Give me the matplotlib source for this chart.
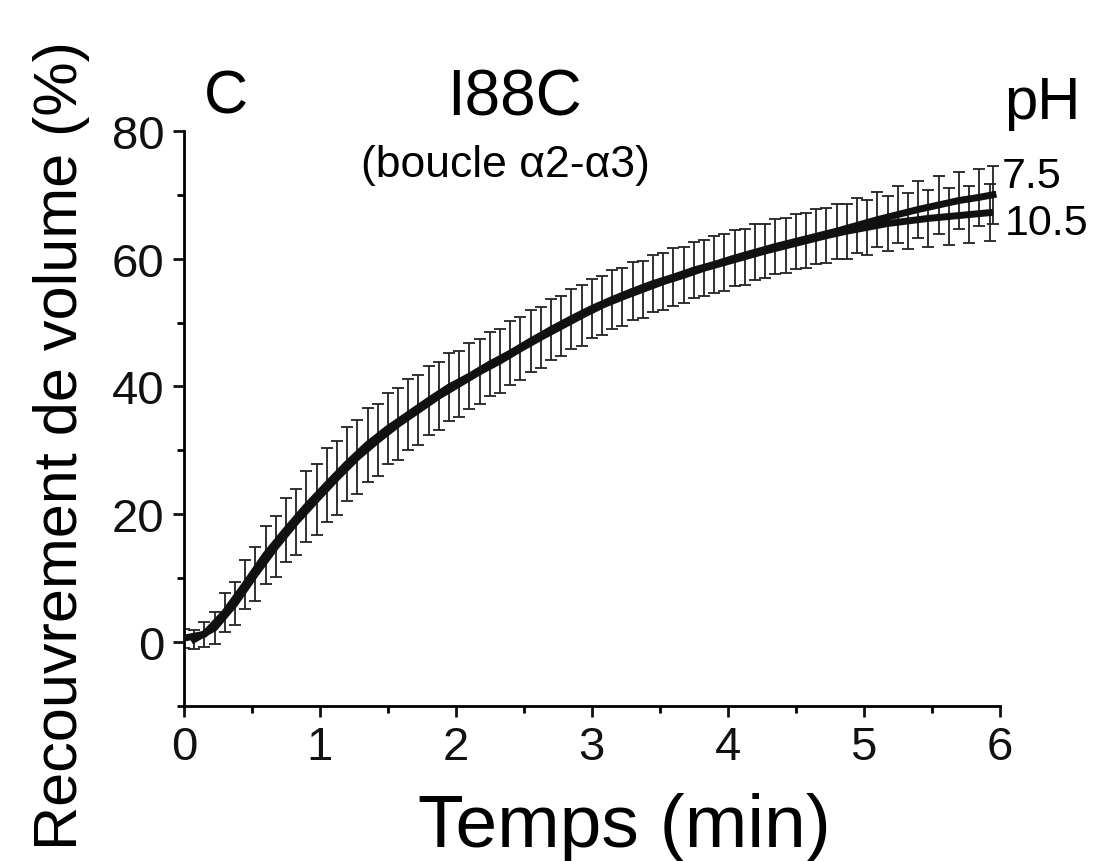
import matplotlib
matplotlib.use("Agg")
import matplotlib.pyplot as plt
from matplotlib.ticker import MultipleLocator

plt.rcParams['font.family'] = ['Liberation Sans', 'DejaVu Sans']

# ---------- Données ----------
temps_75 = [0.00, 0.15, 0.30, 0.45, 0.60, 0.75, 0.90, 1.05, 1.20, 1.35,
            1.50, 1.65, 1.80, 1.95, 2.10, 2.25, 2.40, 2.55, 2.70, 2.85,
            3.00, 3.15, 3.30, 3.45, 3.60, 3.75, 3.90, 4.05, 4.20, 4.35,
            4.50, 4.65, 4.80, 4.95, 5.10, 5.25, 5.40, 5.55, 5.70, 5.85, 5.95]
rec_75 = [0.6, 1.2, 4.6, 9.0, 13.6, 17.5, 21.2, 24.6, 27.9, 30.9,
          33.4, 35.6, 37.8, 39.9, 41.6, 43.5, 45.2, 47.1, 48.9, 50.6,
          52.2, 53.6, 54.9, 56.1, 57.1, 58.2, 59.1, 60.1, 61.0, 61.9,
          62.7, 63.5, 64.3, 65.2, 66.1, 66.9, 67.7, 68.4, 69.1, 69.6, 70.0]
err_75 = [1.5, 2.0, 3.0, 3.8, 4.5, 5.0, 5.5, 5.8, 5.8, 5.8,
          5.6, 5.5, 5.4, 5.3, 5.2, 5.0, 5.0, 4.8, 4.8, 4.7,
          4.6, 4.6, 4.5, 4.5, 4.5, 4.4, 4.4, 4.4, 4.4, 4.3,
          4.3, 4.3, 4.3, 4.3, 4.3, 4.4, 4.4, 4.5, 4.5, 4.5, 4.5]

temps_105 = [0.075, 0.225, 0.375, 0.525, 0.675, 0.825, 0.975, 1.125, 1.275, 1.425,
             1.575, 1.725, 1.875, 2.025, 2.175, 2.325, 2.475, 2.625, 2.775, 2.925,
             3.075, 3.225, 3.375, 3.525, 3.675, 3.825, 3.975, 4.125, 4.275, 4.425,
             4.575, 4.725, 4.875, 5.025, 5.175, 5.325, 5.475, 5.625, 5.775, 5.925]
rec_105 = [0.4, 2.2, 6.0, 10.6, 14.9, 18.8, 22.3, 25.7, 28.9, 31.6,
           34.1, 36.3, 38.5, 40.4, 42.3, 44.0, 45.9, 47.7, 49.4, 51.1,
           52.7, 54.0, 55.2, 56.4, 57.4, 58.5, 59.4, 60.3, 61.2, 62.0,
           62.8, 63.6, 64.3, 64.9, 65.5, 65.9, 66.3, 66.6, 66.9, 67.2]
err_105 = [1.5, 2.5, 3.4, 4.2, 4.8, 5.2, 5.6, 5.8, 5.8, 5.7,
           5.6, 5.5, 5.3, 5.2, 5.1, 5.0, 4.9, 4.8, 4.7, 4.7,
           4.6, 4.5, 4.5, 4.5, 4.4, 4.4, 4.4, 4.4, 4.3, 4.3,
           4.3, 4.3, 4.3, 4.3, 4.3, 4.4, 4.4, 4.5, 4.5, 4.5]

# ---------- Graphique ----------
fig = plt.figure(figsize=(10.95, 8.62), dpi=100)
ax = fig.add_axes([0.168, 0.180, 0.745, 0.667])

for t, r, e in [(temps_75, rec_75, err_75), (temps_105, rec_105, err_105)]:
    ax.errorbar(t, r, yerr=e, fmt="none", ecolor="#222222",
                elinewidth=1.3, capsize=4, capthick=1.3, zorder=2)
    ax.plot(t, r, color="#111111", linewidth=5, zorder=3)

ax.set_xlim(0, 6)
ax.set_ylim(-10, 80)
ax.spines["top"].set_visible(False)
ax.spines["right"].set_visible(False)
ax.spines["left"].set_linewidth(2)
ax.spines["bottom"].set_linewidth(2)

ax.xaxis.set_major_locator(MultipleLocator(1))
ax.xaxis.set_minor_locator(MultipleLocator(0.5))
ax.yaxis.set_minor_locator(MultipleLocator(10))
ax.set_yticks([0, 20, 40, 60, 80])
ax.tick_params(which="major", direction="out", length=8, width=2,
               labelsize=34, colors="#111111", pad=6)
ax.tick_params(which="minor", direction="out", length=5, width=2)

ax.set_xlabel("Temps (min)", fontsize=54)
ax.xaxis.set_label_coords(0.54, -0.15)
ax.set_ylabel("Recouvrement de volume (%)", fontsize=44)
ax.yaxis.set_label_coords(-0.115, 0.455)

fig.text(0.206, 0.886, "C", fontsize=44, ha="center", va="center")
fig.text(0.470, 0.886, "I88C", fontsize=46, ha="center", va="center")
fig.text(0.462, 0.808, "(boucle α2-α3)", fontsize=32, ha="center", va="center")
fig.text(0.952, 0.880, "pH", fontsize=43, ha="center", va="center")
fig.text(0.915, 0.795, "7.5", fontsize=31, ha="left", va="center")
fig.text(0.918, 0.740, "10.5", fontsize=31, ha="left", va="center")

fig.savefig("out.png", dpi=100)
